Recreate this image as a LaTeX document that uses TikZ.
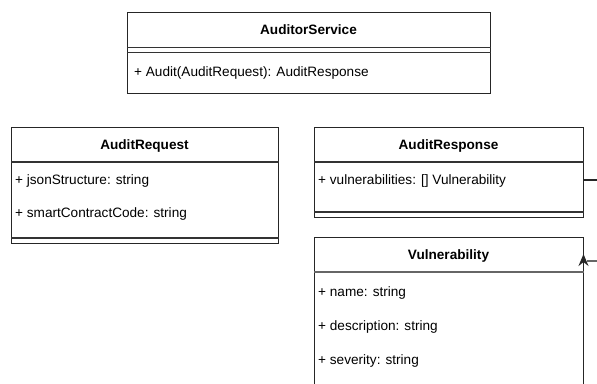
\documentclass[tikz,border=0pt]{standalone}
\usepackage{fontspec}
\setmainfont{Liberation Sans}
\usetikzlibrary{arrows.meta}
\begin{document}
\begin{tikzpicture}[x=1pt,y=-1pt,
  box/.style={draw=black!85, line width=1.1pt, anchor=north west, inner sep=0pt, fill=white},
  sep/.style={draw=black!80, line width=1.1pt},
  title/.style={font=\fontsize{13.6}{15}\selectfont\bfseries, inner sep=0pt},
  attr/.style={font=\fontsize{13.6}{15}\selectfont, anchor=west, inner sep=0pt},
  conn/.style={draw=black!85, line width=1.1pt}]
\useasboundingbox (0,0) rectangle (597,383);
\clip (0,0) rectangle (597,383);

% AuditorService
\node[box, minimum width=363pt, minimum height=81pt] (svc) at (127,12) {};
\node[title] (svct) at (308.5,30) {AuditorService};
\draw[sep] (svc.west |- 0,47.5) -- (svc.east |- 0,47.5);
\draw[sep] (svc.west |- 0,52.5) -- (svc.east |- 0,52.5);
\node[attr] (svcm) at (134,73) {+ Audit(AuditRequest): AuditResponse};

% AuditRequest
\node[box, minimum width=267pt, minimum height=116pt] (req) at (11,127) {};
\node[title] (reqt) at (144.5,146) {AuditRequest};
\draw[sep] (req.west |- 0,162) -- (req.east |- 0,162);
\node[attr] (reqa) at (15,181) {+ jsonStructure: string};
\node[attr] (reqb) at (15,214) {+ smartContractCode: string};
\draw[sep] (req.west |- 0,238) -- (req.east |- 0,238);

% AuditResponse
\node[box, minimum width=269pt, minimum height=90pt] (resp) at (314,127) {};
\node[title] (respt) at (448.5,146) {AuditResponse};
\draw[sep] (resp.west |- 0,162) -- (resp.east |- 0,162);
\node[attr] (respa) at (318,181) {+ vulnerabilities: [] Vulnerability};
\draw[sep] (resp.west |- 0,212) -- (resp.east |- 0,212);

% Vulnerability
\node[box, minimum width=269pt, minimum height=150pt] (vul) at (314,237) {};
\node[title] (vult) at (448.5,256) {Vulnerability};
\draw[sep, draw=black!60] (vul.west |- 0,272) -- (vul.east |- 0,272);
\node[attr] (vula) at (318,293) {+ name: string};
\node[attr] (vulb) at (318,327) {+ description: string};
\node[attr] (vulc) at (318,361) {+ severity: string};

% connector
\coordinate (outR) at (597,180);
\coordinate (inR) at (597,261);
\coordinate (tipB) at (583.5,267);
\coordinate (tipT) at (583.5,254);
\draw[conn] (resp.east |- outR) -- (outR);
\draw[conn, draw=black!60] (inR) -- (587,261);
\draw[conn, -{Stealth[length=12pt,width=10pt]}] (tipB) -- (tipT);
\end{tikzpicture}
\end{document}
